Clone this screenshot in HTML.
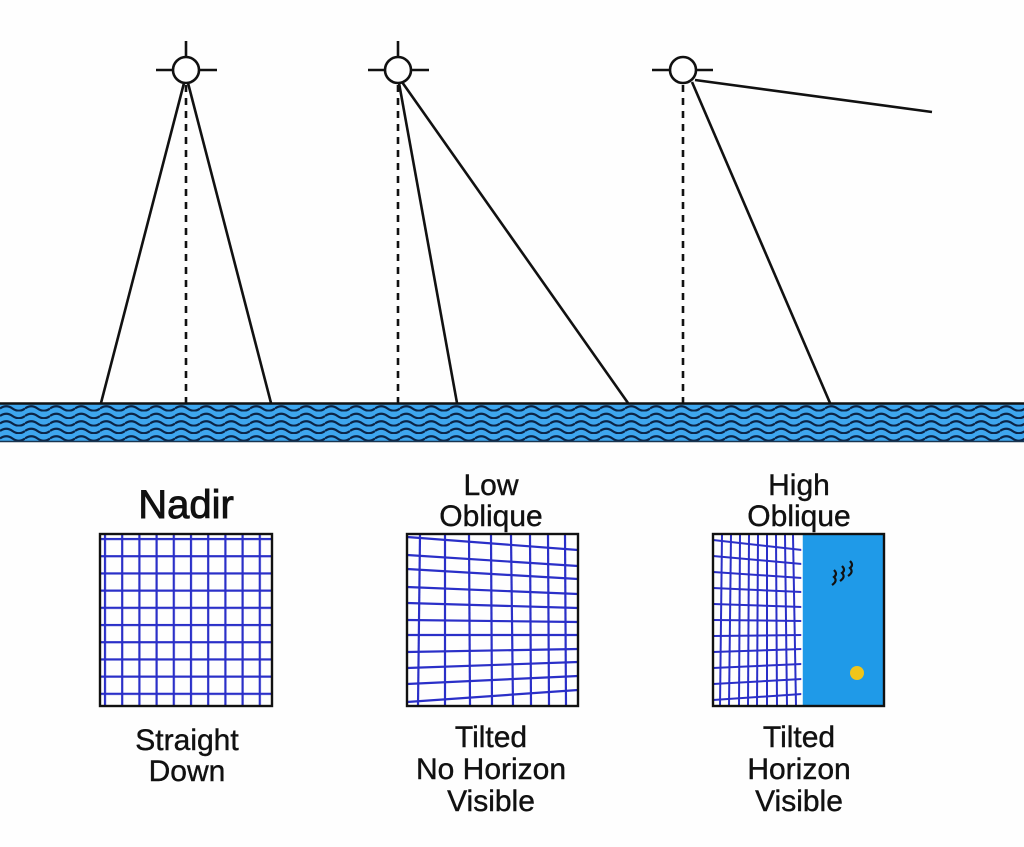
<!DOCTYPE html>
<html><head><meta charset="utf-8"><style>
html,body{margin:0;padding:0;background:#fff;}
svg{display:block;}
text{font-family:"Liberation Sans","DejaVu Sans",sans-serif;fill:#111;}
</style></head><body>
<svg width="1024" height="847" viewBox="0 0 1024 847" xmlns="http://www.w3.org/2000/svg">
<defs>
<pattern id="wv" x="0" y="404" width="25" height="7.5" patternUnits="userSpaceOnUse">
<path d="M0 4.5 Q6.25 0 12.5 4.5 T25 4.5" fill="none" stroke="#0b2446" stroke-width="2.2"/>
</pattern>
<pattern id="ng" x="100" y="534" width="17.2" height="17.2" patternUnits="userSpaceOnUse">
<path d="M5 0 V17.2 M0 5 H17.2" stroke="#2a2fc8" stroke-width="2.2" fill="none"/>
</pattern>
</defs>
<rect width="1024" height="847" fill="#fefefe"/>

<!-- water -->
<rect x="0" y="403" width="1024" height="39" fill="#3ea6ee"/>
<rect x="0" y="404" width="1024" height="38" fill="url(#wv)"/>
<line x1="0" y1="403.5" x2="1024" y2="403.5" stroke="#111" stroke-width="2.5"/>
<line x1="0" y1="441.5" x2="1024" y2="441.5" stroke="#1a3550" stroke-width="1.5"/>

<g stroke="#111" stroke-width="2.6" fill="none">
<!-- sensor 1 -->
<circle cx="186" cy="70" r="13" fill="#fff"/>
<line x1="156" y1="70" x2="173" y2="70"/><line x1="199" y1="70" x2="217" y2="70"/>
<line x1="186" y1="41" x2="186" y2="57"/>
<line x1="184" y1="83" x2="101" y2="403"/><line x1="188" y1="83" x2="271" y2="403"/>
<line x1="186" y1="85" x2="186" y2="403" stroke-dasharray="7,6"/>
<!-- sensor 2 -->
<circle cx="398" cy="70" r="13" fill="#fff"/>
<line x1="368" y1="70" x2="385" y2="70"/><line x1="411" y1="70" x2="429" y2="70"/>
<line x1="398" y1="41" x2="398" y2="57"/>
<line x1="399" y1="83" x2="457" y2="403"/><line x1="402" y1="82" x2="628" y2="403"/>
<line x1="398" y1="85" x2="398" y2="403" stroke-dasharray="7,6"/>
<!-- sensor 3 -->
<circle cx="683" cy="70" r="13" fill="#fff"/>
<line x1="652" y1="70" x2="670" y2="70"/><line x1="696" y1="70" x2="713" y2="70"/>
<line x1="683" y1="85" x2="683" y2="403" stroke-dasharray="7,6"/>
<line x1="692" y1="82" x2="830" y2="403"/>
<line x1="695" y1="80" x2="932" y2="112"/>
</g>

<!-- nadir box -->
<rect x="100" y="534" width="172" height="172" fill="url(#ng)"/>
<rect x="100" y="534" width="172" height="172" fill="none" stroke="#111" stroke-width="2.4"/>

<!-- low oblique box -->
<g stroke="#2a2fc8" stroke-width="2.2" fill="none">
<line x1="420" y1="535" x2="418" y2="706"/><line x1="445" y1="535" x2="445" y2="706"/>
<line x1="469" y1="535" x2="470" y2="706"/><line x1="491" y1="535" x2="492" y2="706"/>
<line x1="511" y1="535" x2="513" y2="706"/><line x1="530" y1="535" x2="531" y2="706"/>
<line x1="548" y1="535" x2="549" y2="706"/><line x1="565" y1="535" x2="566" y2="706"/>
<line x1="407" y1="537" x2="578" y2="550"/>
<line x1="407" y1="555" x2="578" y2="566"/>
<line x1="407" y1="569" x2="578" y2="579"/>
<line x1="407" y1="587" x2="578" y2="594"/>
<line x1="407" y1="603" x2="578" y2="608"/>
<line x1="407" y1="620" x2="578" y2="622"/>
<line x1="407" y1="635" x2="578" y2="635"/>
<line x1="407" y1="652" x2="578" y2="649"/>
<line x1="407" y1="668" x2="578" y2="662"/>
<line x1="407" y1="684" x2="578" y2="676"/>
<line x1="407" y1="702" x2="578" y2="690"/>
</g>
<rect x="407" y="534" width="171" height="172" fill="none" stroke="#111" stroke-width="2.4"/>

<!-- high oblique box -->
<rect x="802" y="534" width="82" height="172" fill="#1f9ae8"/>
<g stroke="#2a2fc8" stroke-width="2" fill="none">
<line x1="722" y1="535" x2="720" y2="706"/><line x1="731" y1="535" x2="729" y2="706"/>
<line x1="740" y1="535" x2="739" y2="706"/><line x1="749" y1="535" x2="748" y2="706"/>
<line x1="758" y1="535" x2="757" y2="706"/><line x1="767" y1="535" x2="767" y2="706"/>
<line x1="776" y1="535" x2="777" y2="706"/><line x1="785" y1="535" x2="787" y2="706"/>
<line x1="793" y1="535" x2="796" y2="706"/>
<line x1="713" y1="540" x2="802" y2="550"/>
<line x1="713" y1="556" x2="802" y2="564"/>
<line x1="713" y1="572" x2="802" y2="578"/>
<line x1="713" y1="588" x2="802" y2="592"/>
<line x1="713" y1="604" x2="802" y2="607"/>
<line x1="713" y1="620" x2="802" y2="621"/>
<line x1="713" y1="636" x2="802" y2="635"/>
<line x1="713" y1="652" x2="802" y2="649"/>
<line x1="713" y1="668" x2="802" y2="664"/>
<line x1="713" y1="684" x2="802" y2="679"/>
<line x1="713" y1="700" x2="802" y2="694"/>
</g>
<line x1="802" y1="534" x2="802" y2="706" stroke="#fff" stroke-width="1.5"/>
<circle cx="857" cy="673" r="7" fill="#f0c51a"/>
<g stroke="#111" stroke-width="2.2" fill="none">
<path d="M834 570 q4 4 0 7 q4 4 -2 8"/>
<path d="M842 566 q4 4 0 7 q4 4 -2 8"/>
<path d="M850 561 q4 4 0 7 q4 4 -2 8"/>
</g>
<rect x="713" y="534" width="171" height="172" fill="none" stroke="#111" stroke-width="2.4"/>

<!-- labels -->
<text x="186" y="518" font-size="40" text-anchor="middle" stroke="#111" stroke-width="0.9">Nadir</text>
<g stroke="#111" stroke-width="0.4">
<text x="491" y="495" font-size="30" text-anchor="middle">Low</text>
<text x="491" y="526" font-size="30" text-anchor="middle">Oblique</text>
<text x="799" y="495" font-size="30" text-anchor="middle">High</text>
<text x="799" y="526" font-size="30" text-anchor="middle">Oblique</text>
<text x="187" y="750" font-size="30" text-anchor="middle">Straight</text>
<text x="187" y="781" font-size="30" text-anchor="middle">Down</text>
<text x="491" y="747" font-size="30" text-anchor="middle">Tilted</text>
<text x="491" y="779" font-size="30" text-anchor="middle">No Horizon</text>
<text x="491" y="811" font-size="30" text-anchor="middle">Visible</text>
<text x="799" y="747" font-size="30" text-anchor="middle">Tilted</text>
<text x="799" y="779" font-size="30" text-anchor="middle">Horizon</text>
<text x="799" y="811" font-size="30" text-anchor="middle">Visible</text>
</g>
</svg>
</body></html>
